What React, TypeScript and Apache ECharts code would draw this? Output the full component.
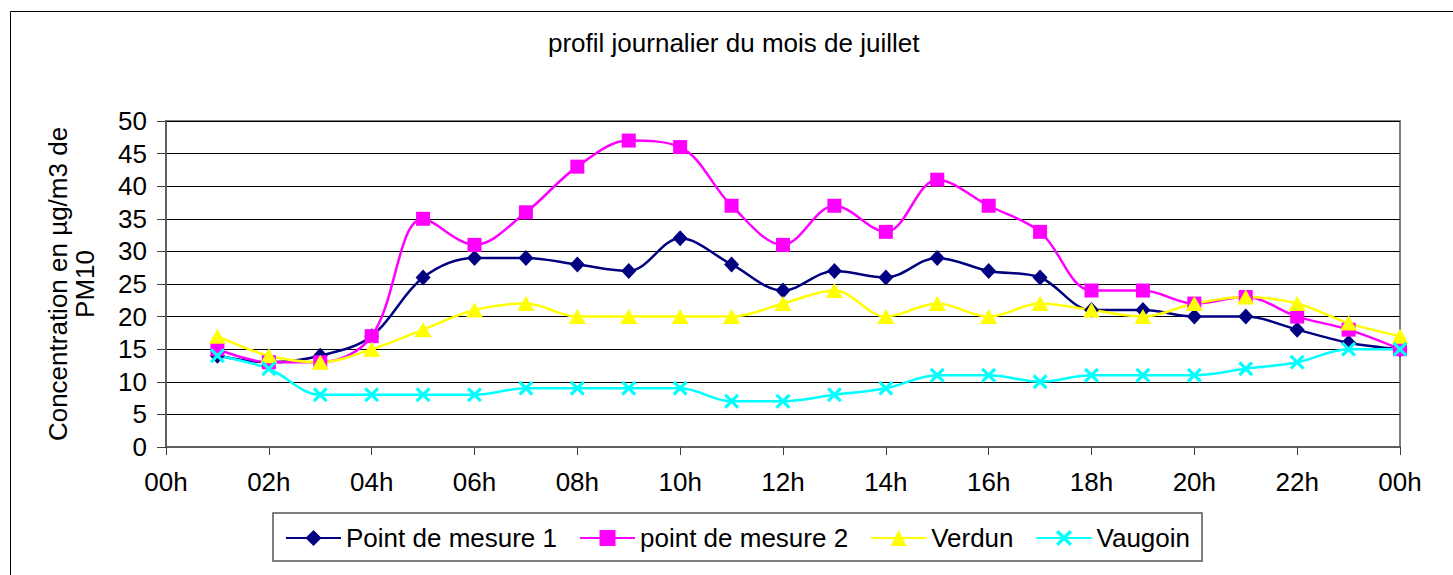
import React, { useEffect, useRef } from "react";
import * as echarts from "echarts";

const hours = [1, 2, 3, 4, 5, 6, 7, 8, 9, 10, 11, 12, 13, 14, 15, 16, 17, 18, 19, 20, 21, 22, 23, 24];
const point1 = [14, 13, 14, 17, 26, 29, 29, 28, 27, 32, 28, 24, 27, 26, 29, 27, 26, 21, 21, 20, 20, 18, 16, 15];
const point2 = [15, 13, 13, 17, 35, 31, 36, 43, 47, 46, 37, 31, 37, 33, 41, 37, 33, 24, 24, 22, 23, 20, 18, 15];
const verdun = [17, 14, 13, 15, 18, 21, 22, 20, 20, 20, 20, 22, 24, 20, 22, 20, 22, 21, 20, 22, 23, 22, 19, 17];
const vaugoin = [14, 12, 8, 8, 8, 8, 9, 9, 9, 9, 7, 7, 8, 9, 11, 11, 10, 11, 11, 11, 12, 13, 15, 15];

const seriesNames = ["Point de mesure 1", "point de mesure 2", "Verdun", "Vaugoin"];
const titleText = "profil journalier du mois de juillet";
const yAxisTitle = "Concentration en µg/m3 de\nPM10";

const FONT = "'Liberation Sans', Arial, sans-serif";
const CROSS = "path://M0,1.5 L1.5,0 L5,3.5 L8.5,0 L10,1.5 L6.5,5 L10,8.5 L8.5,10 L5,6.5 L1.5,10 L0,8.5 L3.5,5 Z";

function pairs(vals: number[]) {
  return hours.map((h, i) => [h, vals[i]]);
}

export default function App() {
  const ref = useRef<HTMLDivElement>(null);
  useEffect(() => {
    if (!ref.current) return;
    const chart = echarts.init(ref.current, undefined, { renderer: "svg" });
    const mk = (name: string, vals: number[], color: string, symbol: string, size: any) => ({
      name,
      type: "line",
      data: pairs(vals),
      smooth: 0.35,
      symbol,
      symbolSize: size,
      showSymbol: true,
      lineStyle: { color, width: 2.5 },
      itemStyle: { color, borderWidth: 0 },
      emphasis: { disabled: true },
    });
    chart.setOption({
      animation: false,
      backgroundColor: "#ffffff",
      textStyle: { fontFamily: FONT },
      title: {
        text: titleText,
        left: 548,
        top: 30,
        padding: 0,
        textStyle: { fontFamily: FONT, fontSize: 26, fontWeight: "normal", color: "#000" },
      },
      graphic: [
        {
          type: "rect",
          shape: { x: 10.5, y: 11.5, width: 1500, height: 700 },
          style: { fill: "none", stroke: "#000", lineWidth: 1 },
          silent: true,
        },
      ],
      grid: {
        left: 166,
        right: 53,
        top: 121,
        bottom: 128,
        show: true,
        borderColor: "#808080",
        borderWidth: 2,
        backgroundColor: "transparent",
      },
      legend: {
        left: 273,
        top: 513,
        padding: [12, 12, 10, 12],
        itemWidth: 55,
        itemHeight: 20,
        itemGap: 22,
        borderColor: "#555",
        borderWidth: 1.5,
        data: seriesNames,
        textStyle: { fontFamily: FONT, fontSize: 26, color: "#000" },
      },
      xAxis: {
        type: "value",
        min: 0,
        max: 24,
        interval: 2,
        axisLine: { show: true, lineStyle: { color: "#606060", width: 2 } },
        axisTick: { show: true, length: 8, lineStyle: { color: "#404040", width: 1 } },
        splitLine: { show: false },
        axisLabel: {
          margin: 22,
          fontFamily: FONT,
          fontSize: 26,
          color: "#000",
          formatter: (v: number) => String(v % 24).padStart(2, "0") + "h",
        },
      },
      yAxis: {
        type: "value",
        min: 0,
        max: 50,
        interval: 5,
        name: yAxisTitle,
        nameLocation: "middle",
        nameGap: 68,
        nameTextStyle: { fontFamily: FONT, fontSize: 26, color: "#000", lineHeight: 27 },
        axisLine: { show: true, lineStyle: { color: "#606060", width: 2 } },
        axisTick: { show: true, length: 9, lineStyle: { color: "#404040", width: 1 } },
        splitLine: { show: true, lineStyle: { color: "#000", width: 1 } },
        axisLabel: { margin: 19, fontFamily: FONT, fontSize: 26, color: "#000" },
      },
      series: [
        mk(seriesNames[0], point1, "#000080", "diamond", [15, 16]),
        mk(seriesNames[1], point2, "#ff00ff", "rect", 14),
        mk(seriesNames[2], verdun, "#ffff00", "triangle", [17, 15]),
        mk(seriesNames[3], vaugoin, "#00ffff", CROSS, 15),
      ],
    });
    return () => chart.dispose();
  }, []);
  return (
    <div
      ref={ref}
      style={{ position: "absolute", left: 0, top: 0, width: 1453, height: 575, background: "#fff" }}
    />
  );
}
